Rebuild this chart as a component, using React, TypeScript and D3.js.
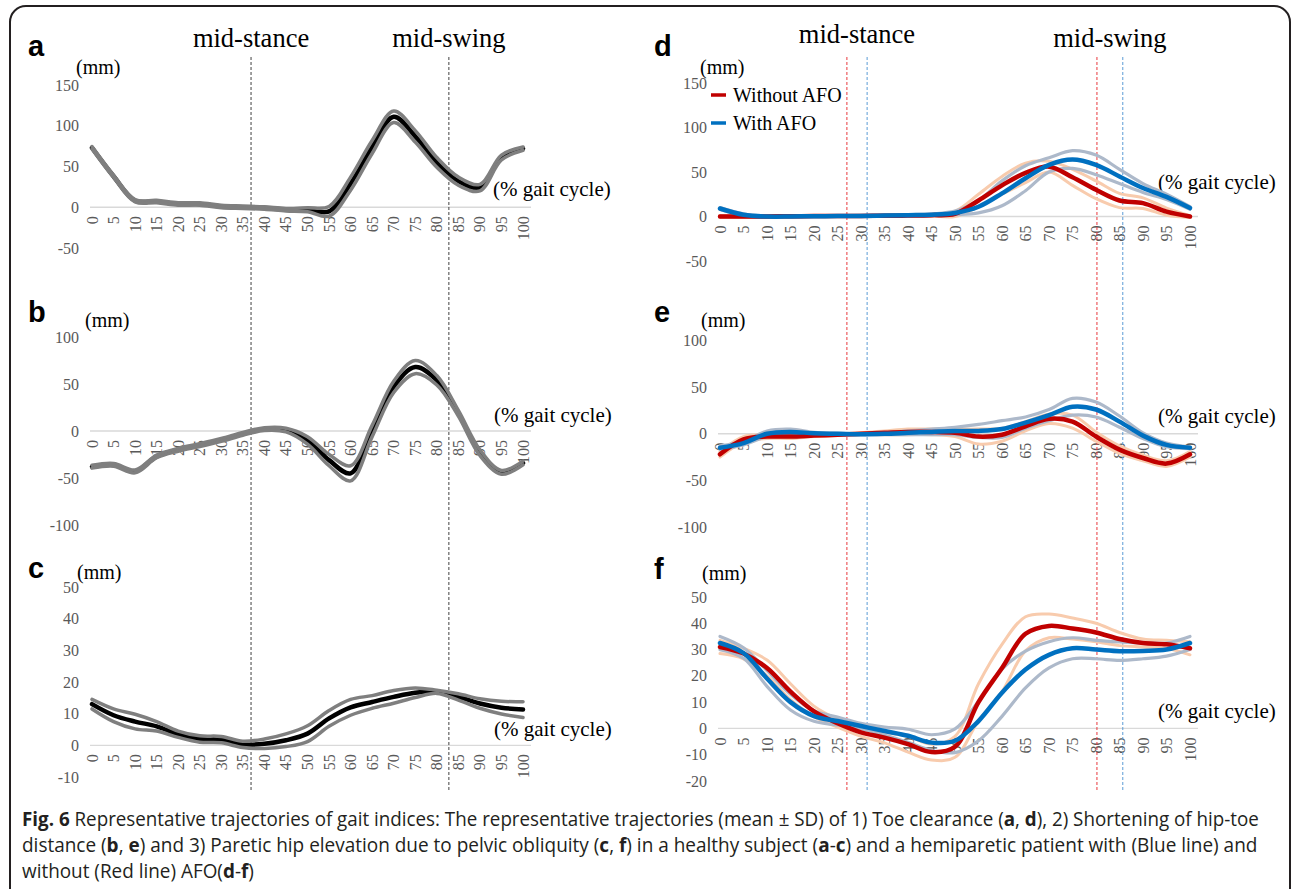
import React, { useLayoutEffect, useRef, useState } from "react";
import * as d3 from "d3";

// gait cycle categories (%)
const gaitPct = [0, 5, 10, 15, 20, 25, 30, 35, 40, 45, 50, 55, 60, 65, 70, 75, 80, 85, 90, 95, 100];

// (a) toe clearance - healthy subject
const toeHealthyMean = [73, 38, 8, 7, 4, 4, 1, 0, -1, -3, -3, -5, 29, 74, 111, 87, 55, 32, 24, 61, 72];
const toeHealthySd = [1.5, 1.5, 1.5, 1.5, 1.5, 1.5, 1.5, 1.5, 1.5, 1.5, 2.5, 6, 8, 8, 7, 7, 6, 5, 4, 3, 2];

// (b) shortening of hip-toe distance - healthy subject
const hipToeHealthyMean = [-38, -36, -43, -27, -20, -15, -9.5, -3, 2, 1, -10, -31, -45, 0, 47, 68, 54, 19, -23, -44, -34];
const hipToeHealthySd = [1.5, 1.5, 1.5, 1.5, 1.5, 1.5, 1.5, 1.5, 1.5, 2, 4, 6, 8, 6, 6, 7, 5, 3, 3, 2, 2];

// (c) paretic hip elevation - healthy subject
const hipElevHealthyMean = [13, 9.5, 7.5, 6, 3.5, 2, 1.8, 0.3, 0.5, 1.6, 3.7, 8.5, 12, 13.7, 15.3, 16.6, 16.9, 15.3, 13.2, 11.9, 11.3];
const hipElevHealthySd = [1.5, 2, 2.3, 1.5, 1, 1, 1, 1, 1.5, 2, 2.5, 2.5, 2.5, 2, 2, 1.5, 0.5, 1, 1.5, 2, 2.5];

// (d) toe clearance - patient
const toeWithoutMean = [0, 0, 0, 0.3, 0.5, 0.6, 0.7, 0.8, 1, 1.5, 3, 18, 35, 49, 56, 44, 30, 18, 15, 5.5, 0];
const toeWithoutSd = [1, 1, 0.5, 0.5, 0.5, 0.5, 0.5, 0.5, 0.5, 1, 3, 7, 10, 11, 6, 9, 10, 8, 6, 4, 1];
const toeWithMean = [9, 2, 0, 0, 0.3, 0.5, 0.7, 1, 1.5, 2, 4, 11, 26, 43, 58, 64, 58, 45, 32, 22, 9.5];
const toeWithSd = [1, 1, 0.5, 0.5, 0.5, 0.5, 0.5, 0.5, 0.5, 1, 2, 7, 14, 14, 8, 10, 11, 8, 5, 3, 1.5];

// (e) shortening of hip-toe distance - patient
const hipToeWithoutMean = [-22, -6, -3, -3, -2, -1, 0, 1, 2, 2, 1, -3, -1, 8, 16, 13, -3, -17, -26, -32, -22];
const hipToeWithoutSd = [3, 3, 2, 2, 1, 1, 1, 2, 3, 3, 4, 8, 7, 5, 5, 7, 5, 4, 3, 3, 3];
const hipToeWithMean = [-15, -10, 0, 2, 0.5, 0, -0.5, 0, 1, 2, 3, 3, 5, 12, 20, 29, 26, 13, -2, -12, -15];
const hipToeWithSd = [2, 2, 3, 3, 1, 0.5, 0.5, 1, 2, 3, 4, 7, 9, 6, 6, 9, 8, 6, 3, 2, 1];

// (f) paretic hip elevation - patient
const hipElevWithoutMean = [31, 28.5, 23, 14, 6.5, 2, -1.5, -3.5, -6, -9, -7, 10, 23, 36, 39, 38, 36.5, 34, 32.5, 32, 30.5];
const hipElevWithoutSd = [2.5, 2, 3, 3, 2, 1.5, 1.5, 2, 3, 3, 4, 7, 9, 6.5, 4.5, 4, 3.5, 2.5, 1.5, 1.5, 2.5];
const hipElevWithMean = [32.5, 28.7, 19, 10, 4.7, 2.8, 0.9, -1, -2.8, -5.4, -4.7, 2.8, 13.6, 22.4, 28, 30.5, 30, 29.4, 29.5, 30, 32.5];
const hipElevWithSd = [2.5, 2, 3, 3, 2, 1.5, 1, 1.5, 2.5, 3, 4.5, 7.5, 9, 7, 5, 4, 3.5, 3.5, 3, 2.5, 2.5];

// gait events (% gait cycle): mid-stance, mid-swing
const healthyPhases = [36.9, 82.8];
const withoutAfoPhases = [27, 80.2];
const withAfoPhases = [31.3, 85.7];

const ticks150 = [150, 100, 50, 0, -50];
const ticks100 = [100, 50, 0, -50, -100];
const ticksC = [50, 40, 30, 20, 10, 0, -10];
const ticksF = [50, 40, 30, 20, 10, 0, -10, -20];

const SERIF = "'Liberation Serif', 'Times New Roman', serif";
const SANS = "'Liberation Sans', Arial, sans-serif";
const TICK_GREY = "#595959";

const leftX = d3.scaleLinear().domain([0, 100]).range([92, 523]);
const rightX = d3.scaleLinear().domain([0, 100]).range([720, 1190]);

const upper = (m, s) => m.map((v, i) => v + s[i]);
const lower = (m, s) => m.map((v, i) => v - s[i]);

const healthyLines = (mean, sd) => [
  { values: mean, color: "#000000", width: 4.5 },
  { values: upper(mean, sd), color: "#7f7f7f", width: 3.5 },
  { values: lower(mean, sd), color: "#7f7f7f", width: 3.5 },
];

const patientLines = (wo, woSd, w, wSd) => [
  { values: upper(wo, woSd), color: "#f8cbad", width: 3 },
  { values: lower(wo, woSd), color: "#f8cbad", width: 3 },
  { values: upper(w, wSd), color: "#adb9ca", width: 3.2 },
  { values: lower(w, wSd), color: "#adb9ca", width: 3.2 },
  { values: wo, color: "#c00000", width: 4.5 },
  { values: w, color: "#0070c0", width: 4.5 },
];

const panels = [
  {
    letter: "a", lx: 28, ly: 56, x: leftX,
    y: d3.scaleLinear().domain([-50, 150]).range([248, 85]),
    ticks: ticks150, tickX: 79, mm: [76, 67], gait: [493, 189],
    lines: healthyLines(toeHealthyMean, toeHealthySd),
  },
  {
    letter: "b", lx: 28, ly: 322, x: leftX,
    y: d3.scaleLinear().domain([-100, 100]).range([525, 337]),
    ticks: ticks100, tickX: 79, mm: [85, 320], gait: [494, 415],
    lines: healthyLines(hipToeHealthyMean, hipToeHealthySd),
  },
  {
    letter: "c", lx: 28, ly: 578, x: leftX,
    y: d3.scaleLinear().domain([-10, 50]).range([777, 587]),
    ticks: ticksC, tickX: 79, mm: [77, 572], gait: [494, 729],
    lines: healthyLines(hipElevHealthyMean, hipElevHealthySd),
  },
  {
    letter: "d", lx: 654, ly: 56, x: rightX,
    y: d3.scaleLinear().domain([-50, 150]).range([261, 83]),
    ticks: ticks150, tickX: 707, mm: [700, 67], gait: [1158, 182],
    lines: patientLines(toeWithoutMean, toeWithoutSd, toeWithMean, toeWithSd),
  },
  {
    letter: "e", lx: 654, ly: 322, x: rightX,
    y: d3.scaleLinear().domain([-100, 100]).range([527, 340.5]),
    ticks: ticks100, tickX: 707, mm: [701, 320], gait: [1158, 416],
    lines: patientLines(hipToeWithoutMean, hipToeWithoutSd, hipToeWithMean, hipToeWithSd),
  },
  {
    letter: "f", lx: 654, ly: 579, x: rightX,
    y: d3.scaleLinear().domain([-20, 50]).range([781, 597]),
    ticks: ticksF, tickX: 707, mm: [702, 573], gait: [1158, 711],
    lines: patientLines(hipElevWithoutMean, hipElevWithoutSd, hipElevWithMean, hipElevWithSd),
  },
];

const Panel = ({ p }) => {
  const zeroY = p.y(0);
  return (
    <g>
      <text x={p.lx} y={p.ly} fontFamily={SANS} fontWeight="bold" fontSize={29}>
        {p.letter}
      </text>
      <text x={p.mm[0]} y={p.mm[1]} dominantBaseline="central" fontFamily={SERIF} fontSize={20}>
        (mm)
      </text>
      {p.ticks.map((t) => (
        <text key={t} x={p.tickX} y={p.y(t)} textAnchor="end" dominantBaseline="central"
          fontFamily={SERIF} fontSize={16} fill={TICK_GREY}>
          {t}
        </text>
      ))}
      <line x1={p.x(0) - 2} x2={p.x(100) + 8} y1={zeroY} y2={zeroY} stroke="#d9d9d9" strokeWidth={1.3} />
      {gaitPct.map((g) => (
        <text key={g} transform={`translate(${p.x(g)},${zeroY + 9}) rotate(-90)`} textAnchor="end"
          dominantBaseline="central" fontFamily={SERIF} fontSize={16} fill={TICK_GREY}>
          {g}
        </text>
      ))}
      <text x={p.gait[0]} y={p.gait[1]} dominantBaseline="central" fontFamily={SERIF} fontSize={21}>
        (% gait cycle)
      </text>
    </g>
  );
};

const Curves = ({ p }) => {
  const line = d3
    .line<number>()
    .x((_, i) => p.x(gaitPct[i]))
    .y((d) => p.y(d))
    .curve(d3.curveCatmullRom.alpha(0.5));
  return (
    <g>
      {p.lines.map((l, i) => (
        <path key={i} d={line(l.values)} fill="none" stroke={l.color} strokeWidth={l.width}
          strokeLinecap="round" strokeLinejoin="round" />
      ))}
    </g>
  );
};

const B = ({ children }) => <tspan fontWeight="bold">{children}</tspan>;

// caption lines: baseline y and the width each line fills
const captionRows = [
  { y: 826, width: 1238 },
  { y: 852, width: 1236 },
  { y: 878, width: 232 },
];

const Caption = () => {
  const refs = useRef([]);
  const [scales, setScales] = useState([1, 1, 1]);
  useLayoutEffect(() => {
    setScales(
      captionRows.map((r, i) => {
        const el = refs.current[i];
        const len = el ? el.getComputedTextLength() : 0;
        return len > 0 ? r.width / len : 1;
      })
    );
  }, []);
  const content = [
    <>
      <B>Fig. 6</B> Representative trajectories of gait indices: The representative trajectories (mean ± SD) of 1) Toe clearance (<B>a</B>, <B>d</B>), 2) Shortening of hip-toe
    </>,
    <>
      distance (<B>b</B>, <B>e</B>) and 3) Paretic hip elevation due to pelvic obliquity (<B>c</B>, <B>f</B>) in a healthy subject (<B>a</B>-<B>c</B>) and a hemiparetic patient with (Blue line) and
    </>,
    <>
      without (Red line) AFO(<B>d</B>-<B>f</B>)
    </>,
  ];
  return (
    <g fontFamily="'Open Sans', 'Noto Sans', sans-serif" fontSize={20} fill="#231f20">
      {captionRows.map((r, i) => (
        <text key={i} ref={(el) => (refs.current[i] = el)} x={0} y={0}
          transform={`translate(22,${r.y}) scale(${scales[i]},1)`}>
          {content[i]}
        </text>
      ))}
    </g>
  );
};

export default function App() {
  const dashTop = 57;
  const dashBottom = 792;
  return (
    <svg width={1292} height={889} style={{ position: "absolute", left: 0, top: 0, background: "#fff" }}>
      <rect x={10} y={6} width={1280} height={1000} rx={16} fill="#fff" stroke="#231f20" strokeWidth={2} />

      {panels.map((p) => (
        <Panel key={p.letter} p={p} />
      ))}

      {healthyPhases.map((v) => (
        <line key={"h" + v} x1={leftX(v)} x2={leftX(v)} y1={dashTop} y2={dashBottom}
          stroke="#404040" strokeWidth={1} strokeDasharray="3 2" />
      ))}
      {withoutAfoPhases.map((v) => (
        <line key={"r" + v} x1={rightX(v)} x2={rightX(v)} y1={dashTop} y2={dashBottom}
          stroke="#e8383d" strokeWidth={1} strokeDasharray="3 2" />
      ))}
      {withAfoPhases.map((v) => (
        <line key={"b" + v} x1={rightX(v)} x2={rightX(v)} y1={dashTop} y2={dashBottom}
          stroke="#5b9bd5" strokeWidth={1} strokeDasharray="3 2" />
      ))}

      {panels.map((p) => (
        <Curves key={p.letter} p={p} />
      ))}

      <g fontFamily={SERIF} fontSize={26.5} textAnchor="middle">
        <text x={leftX(healthyPhases[0])} y={47}>mid-stance</text>
        <text x={leftX(healthyPhases[1])} y={47}>mid-swing</text>
        <text x={(rightX(withoutAfoPhases[0]) + rightX(withAfoPhases[0])) / 2} y={43}>mid-stance</text>
        <text x={(rightX(withoutAfoPhases[1]) + rightX(withAfoPhases[1])) / 2} y={47}>mid-swing</text>
      </g>

      {/* legend (panel d) */}
      <g fontFamily={SERIF} fontSize={20}>
        <line x1={711} x2={726} y1={95} y2={95} stroke="#c00000" strokeWidth={3.5} />
        <text x={733} y={95} dominantBaseline="central">Without AFO</text>
        <line x1={711} x2={726} y1={123} y2={123} stroke="#0070c0" strokeWidth={3.5} />
        <text x={733} y={123} dominantBaseline="central">With AFO</text>
      </g>

      <Caption />
    </svg>
  );
}
